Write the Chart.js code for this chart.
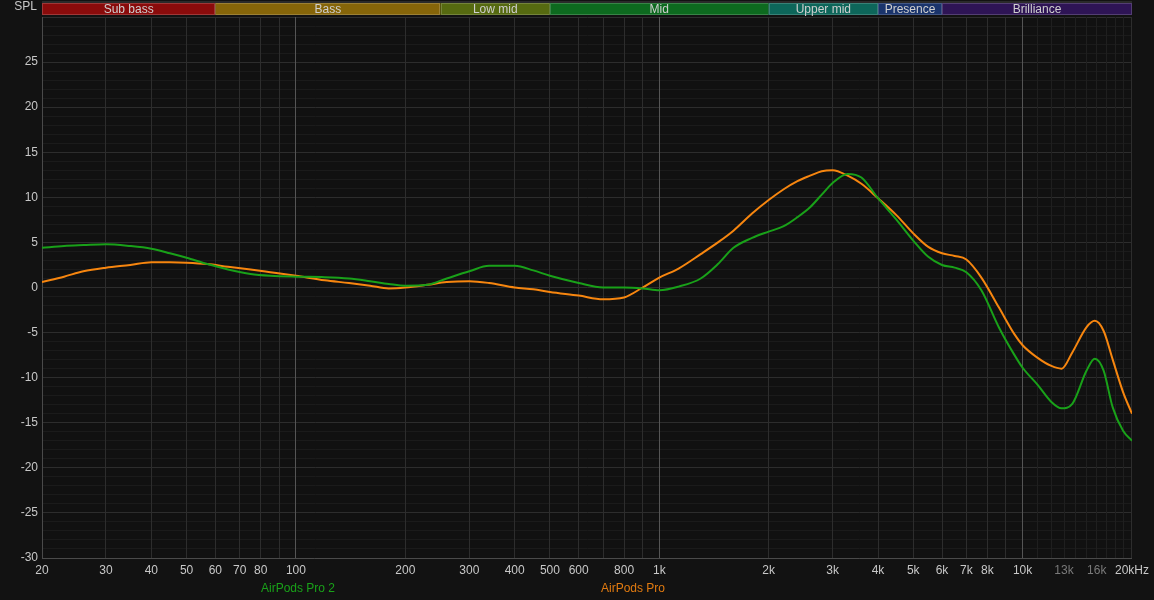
<!DOCTYPE html>
<html><head><meta charset="utf-8">
<script src="https://cdn.jsdelivr.net/npm/chart.js@4/dist/chart.umd.min.js"></script>
<style>html,body{margin:0;padding:0;background:#121212;}canvas{display:block;}</style>
</head><body>
<canvas id="c" width="1154" height="600" style="width:1154px;height:600px"></canvas>
<script>
// ---- data ----
const freqs = [20,23,26,30,35,40,45,50,57,65,75,85,100,120,140,160,180,200,230,260,300,340,400,450,500,600,700,800,900,1000,1130,1300,1450,1600,1800,2000,2200,2400,2600,2800,3000,3300,3600,4000,4500,5000,5500,6000,6500,7000,7700,8600,9500,10000,11000,12000,12800,13700,15000,15800,16700,17700,18900,20000];
const airPodsPro2 = [4.4,4.6,4.7,4.8,4.6,4.3,3.8,3.3,2.6,2.0,1.5,1.3,1.2,1.15,1.0,0.7,0.4,0.2,0.3,1.0,1.8,2.4,2.4,1.9,1.3,0.5,0.0,0.0,-0.1,-0.3,0.1,1.0,2.6,4.4,5.5,6.2,6.8,7.8,8.9,10.3,11.6,12.6,12.2,9.9,7.5,5.2,3.4,2.5,2.2,1.7,-0.3,-4.4,-7.5,-8.9,-10.8,-12.7,-13.4,-12.9,-9.2,-7.9,-9.2,-13.3,-15.9,-17.0];
const airPodsPro = [0.6,1.2,1.8,2.2,2.5,2.8,2.8,2.75,2.6,2.3,2.0,1.7,1.3,0.8,0.5,0.2,-0.1,0.0,0.3,0.6,0.7,0.5,0.0,-0.2,-0.5,-0.9,-1.3,-1.1,0.0,1.1,2.1,3.7,5.0,6.3,8.2,9.7,10.9,11.8,12.4,12.9,13.0,12.4,11.5,9.9,8.0,6.0,4.5,3.8,3.5,3.1,1.1,-2.2,-5.2,-6.4,-7.8,-8.7,-9.0,-7.2,-4.4,-3.7,-4.8,-8.0,-11.6,-14.0];
const seriesNames = ['AirPods Pro 2','AirPods Pro'];
const gridFreqs = [20,30,40,50,60,70,80,90,100,200,300,400,500,600,700,800,900,1000,2000,3000,4000,5000,6000,7000,8000,9000,10000,11000,12000,13000,14000,15000,16000,17000,18000,19000,20000];
const freqLabels = {20:'20',30:'30',40:'40',50:'50',60:'60',70:'70',80:'80',100:'100',200:'200',300:'300',400:'400',500:'500',600:'600',800:'800',1000:'1k',2000:'2k',3000:'3k',4000:'4k',5000:'5k',6000:'6k',7000:'7k',8000:'8k',10000:'10k',13000:'13k',16000:'16k',20000:'20kHz'};
const dimLabels = [13000,16000];
const bandNames = ['Sub bass','Bass','Low mid','Mid','Upper mid','Presence','Brilliance'];
const bandEdges = [20,60,250,500,2000,4000,6000,20000];
const bandColors = ['#8a0b0b','#866509','#566a10','#0d6a1f','#0d665a','#1a346c','#2e1455'];
const splMin = -30, splMax = 30;

// ---- style ----
const FONT = '"Liberation Sans", Arial, sans-serif';
const GREEN = '#19a119', ORANGE = '#f7860f';

const toPts = arr => freqs.map((f,i)=>({x:f,y:arr[i]}));

const decor = {
  id:'decor',
  beforeDraw(chart){
    const {ctx, chartArea:a} = chart;
    ctx.save();
    ctx.fillStyle='#121212'; ctx.fillRect(0,0,chart.width,chart.height);
    ctx.fillStyle='#111111'; ctx.fillRect(a.left,a.top,a.right-a.left,a.bottom-a.top);
    ctx.restore();
  },
  afterDraw(chart){
    const {ctx} = chart; const xs = chart.scales.x;
    ctx.save();
    ctx.font = '12px '+FONT;
    ctx.textBaseline='middle'; ctx.textAlign='center';
    ctx.fillStyle='#2a2a2a'; ctx.fillRect(42,1,xs.right-42,2);
    for(let i=0;i<bandNames.length;i++){
      const x0 = xs.getPixelForValue(bandEdges[i]), x1 = xs.getPixelForValue(bandEdges[i+1]);
      ctx.fillStyle = bandColors[i];
      ctx.fillRect(x0,3,x1-x0,12);
      ctx.strokeStyle='rgba(255,255,255,0.18)'; ctx.lineWidth=1;
      ctx.strokeRect(Math.round(x0)+0.5,3.5,Math.round(x1-x0)-1,11);
      ctx.fillStyle='#cfcfcf';
      ctx.fillText(bandNames[i],(x0+x1)/2,10);
    }
    ctx.textAlign='right'; ctx.fillStyle='#c8c8c8';
    ctx.fillText('SPL',37,7);
    ctx.textAlign='center';
    ctx.fillStyle=GREEN; ctx.fillText(seriesNames[0],298,589);
    ctx.fillStyle='#e07a10'; ctx.fillText(seriesNames[1],633,589);
    ctx.restore();
  }
};

new Chart(document.getElementById('c'),{
  type:'line',
  data:{datasets:[
    {label:seriesNames[0],data:toPts(airPodsPro2),borderColor:GREEN,borderWidth:2,pointRadius:0,cubicInterpolationMode:'monotone',fill:false},
    {label:seriesNames[1],data:toPts(airPodsPro),borderColor:ORANGE,borderWidth:2,pointRadius:0,cubicInterpolationMode:'monotone',fill:false}
  ]},
  options:{
    responsive:false, animation:false, devicePixelRatio:1,
    layout:{padding:{left:0,top:17,right:21,bottom:0}},
    plugins:{legend:{display:false},tooltip:{enabled:false}},
    scales:{
      x:{type:'logarithmic',min:20,max:20000,
        afterBuildTicks(s){ s.ticks = gridFreqs.map(v=>({value:v})); },
        afterFit(s){ s.height = 42; },
        ticks:{autoSkip:false,maxRotation:0,minRotation:0,padding:5,
          font:{family:FONT,size:12},
          color:c=> dimLabels.includes(c.tick.value)?'#7a7a7a':'#c8c8c8',
          callback:(v)=> freqLabels[v] ?? ''},
        grid:{drawTicks:false,z:-1,
          color:c=>{const v=c.tick.value; if(v===100||v===1000||v===10000) return '#555555'; if(v>10000&&v<20000) return '#1f1f1f'; return '#2d2d2d';},
          lineWidth:1},
        border:{color:'#4a4a4a'}
      },
      y:{type:'linear',min:splMin,max:splMax,
        afterBuildTicks(s){ const t=[]; for(let v=splMin; v<=splMax; v++) t.push({value:v}); s.ticks=t; },
        afterFit(s){ s.width = 42; },
        ticks:{autoSkip:false,padding:4,font:{family:FONT,size:12},color:'#c8c8c8',
          callback:v=> (v%5===0 && v!==splMax)? String(v):''},
        grid:{drawTicks:false,z:-2,color:c=> c.tick.value%5===0?'#2d2d2d':'#1b1b1b'},
        border:{color:'#4a4a4a'}
      }
    }
  },
  plugins:[decor]
});
</script>
</body></html>
